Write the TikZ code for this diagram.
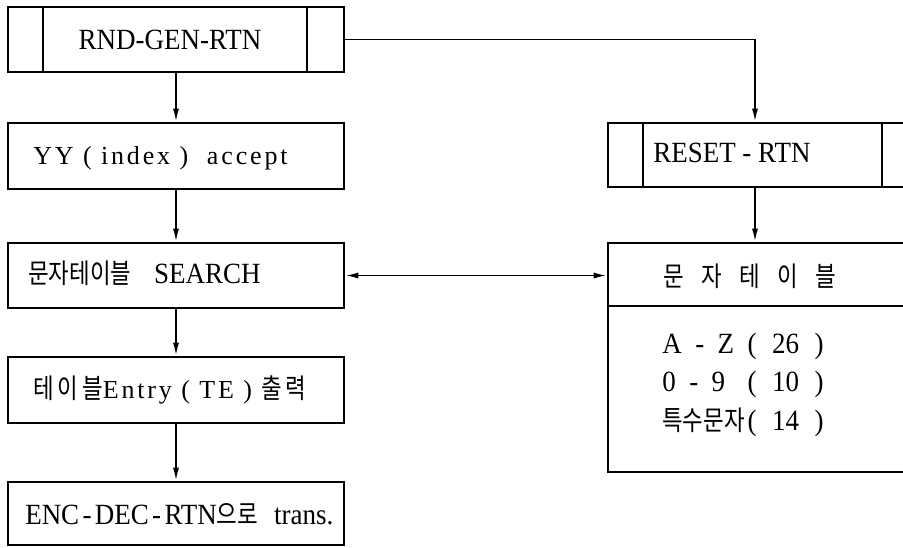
\documentclass[tikz,border=0pt]{standalone}
\usepackage{fontspec}
\setmainfont{Liberation Serif}
\newfontfamily\bigfont[FakeStretch=0.92]{Liberation Serif}
\newfontfamily\widefont[LetterSpace=11]{Liberation Serif}
\newfontfamily\krfont[FakeStretch=0.82]{Noto Sans CJK KR}
\newfontfamily\krwide[FakeStretch=0.82,LetterSpace=14]{Noto Sans CJK KR}
\newcommand{\txtK}[1]{{\fontsize{20.5}{24}\krfont #1}}
\newcommand{\txtKW}[1]{{\fontsize{20.5}{24}\krwide #1}}
\newcommand{\txtL}[1]{{\fontsize{22}{26}\bigfont #1}}
\newcommand{\txtW}[1]{{\fontsize{19.5}{23}\widefont #1}}
\newcommand{\hyph}{\kern2.5pt-\kern2.5pt}
% one line of the character table: range, then a count in parentheses
\newcommand{\tblrow}[2]{\makebox[64pt][l]{#1}\makebox[57pt]{\txtL{(\hfill#2\hfill)}}}
\usetikzlibrary{fit,arrows.meta}
\begin{document}
\begin{tikzpicture}[x=0.75pt,y=-0.75pt,
  box/.style={draw, line width=1.4pt, inner sep=0pt, fit={#1}},
  bar/.style={line width=1.4pt},
  txt/.style={inner sep=0pt, anchor=west},
  link/.style={line width=1.4pt},
  arr/.style={link, -{Latex[length=10pt,width=4.5pt]}},
  darr/.style={link, {Latex[length=10pt,width=4.5pt]}-{Latex[length=10pt,width=4.5pt]}}]
\useasboundingbox (0,0) rectangle (903,547);
\clip (0,0) rectangle (903,547);

% left column: routine box and processing steps
\node[box={(8,7)(344,72)}] (b1) {};
\draw[bar] (43,7) -- (43,72) (307,7) -- (307,72);
\node[txt, anchor=center] (t1) at (170,40) {\txtL{RND-GEN-RTN}};

\node[box={(8,123)(344,189)}] (b2) {};
\node[txt] (t2) at (33,158) {\txtW{YY ( index )\ \ accept}};

\node[box={(8,243)(344,308)}] (b3) {};
\node[txt] (t3) at (28,273) {\txtK{문자테이블}\hspace{17pt}\txtL{SEARCH}};

\node[box={(8,357)(344,423)}] (b4) {};
\node[txt] (t4) at (33,390) {\txtKW{테이블}\txtW{Entry (\ TE\ )\ }\txtKW{출력}};

\node[box={(8,482)(344,545)}] (b5) {};
\node[txt] (t5) at (25,514) {\txtL{ENC\hyph DEC\hyph RTN}\txtK{으로}\hspace{12pt}\txtL{trans.}};

% right column: reset routine and character table
\coordinate (rx) at (755,0);
\node[box={(608,123)(917,187)}] (r) {};
\draw[bar] (643,123) -- (643,187) (882,123) -- (882,187);
\node[txt] (tr) at (653,153) {\txtL{RESET - RTN}};

\node[box={(608,243)(917,472)}] (tbl) {};
\draw[bar] (608,306) -- (917,306);
\node[txt, anchor=center] (th) at (750,276) {\txtK{문\hspace{13pt}자\hspace{13pt}테\hspace{13pt}이\hspace{13pt}블}};
\node[txt] (l1) at (662,346) {\tblrow{\txtL{A\ \ -\ \ Z}}{26}};
\node[txt] (l2) at (662,384) {\tblrow{\txtL{0\ \ -\ \ 9}}{10}};
\node[txt] (l3) at (662,422) {\tblrow{\txtK{특수문자}}{14}};

% connectors
\draw[arr] (b1) -- (b2);
\draw[arr] (b2) -- (b3);
\draw[arr] (b3) -- (b4);
\draw[arr] (b4) -- (b5);
\draw[arr] (b1.east) -| (r.north -| rx);
\draw[arr] (r.south -| rx) -- (tbl.north -| rx);
\draw[darr] (b3.east) -- (b3.east -| tbl.west);
\end{tikzpicture}
\end{document}
